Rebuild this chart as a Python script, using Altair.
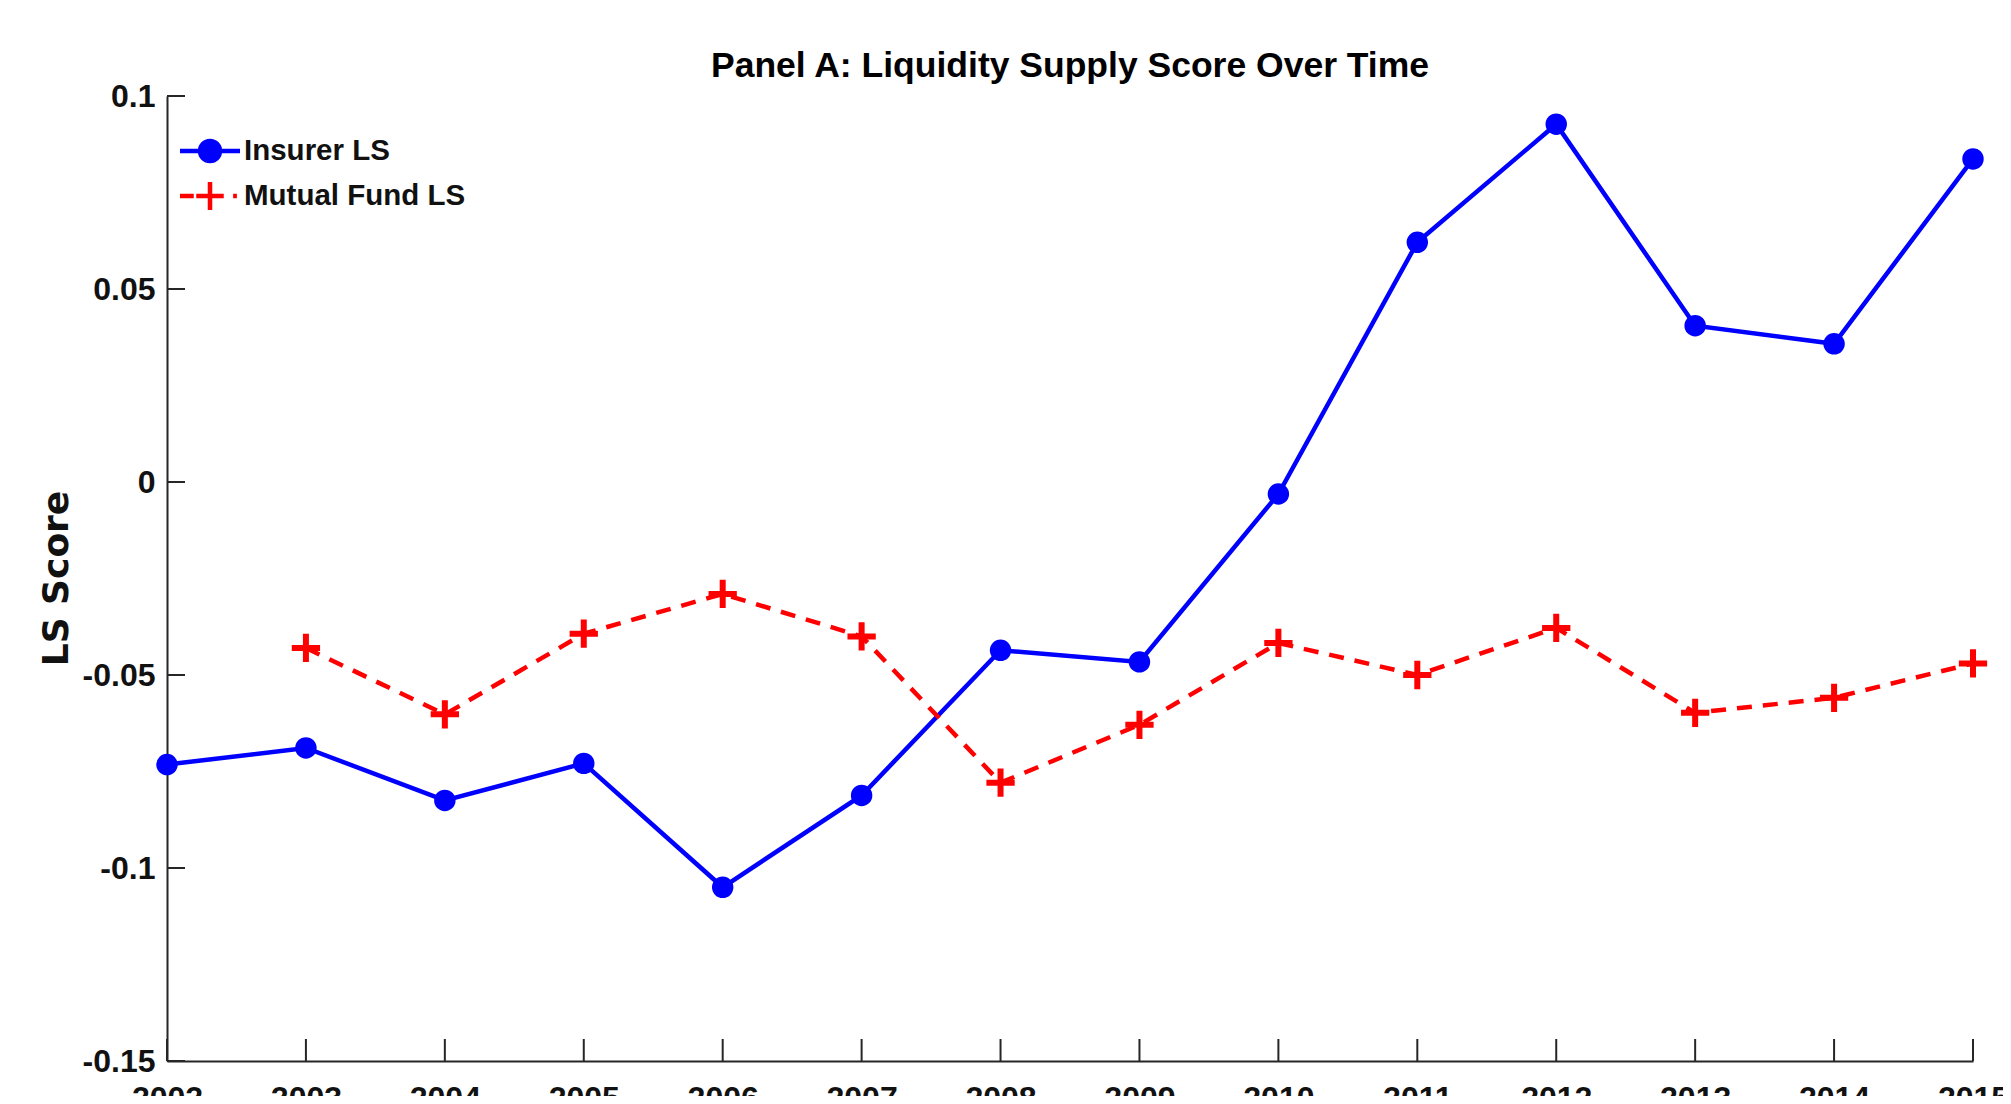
import altair as alt
import pandas as pd

# ---- data ----
years = list(range(2002, 2016))
insurer_ls = [-0.0732, -0.0689, -0.0825, -0.0729, -0.1050, -0.0812, -0.0436,
              -0.0466, -0.0031, 0.0621, 0.0927, 0.0405, 0.0358, 0.0837]
mutual_fund_ls = [None, -0.0430, -0.0602, -0.0393, -0.0290, -0.0400, -0.0779,
                  -0.0629, -0.0417, -0.0500, -0.0378, -0.0598, -0.0559, -0.0470]
series_names = ["Insurer LS", "Mutual Fund LS"]
x_ticks = list(range(2002, 2016))
y_ticks = [-0.15, -0.1, -0.05, 0, 0.05, 0.1]
title_text = "Panel A: Liquidity Supply Score Over Time"
y_title = "LS Score"

rows = []
for yr, v in zip(years, insurer_ls):
    rows.append({"year": yr, "value": v, "series": series_names[0]})
for yr, v in zip(years, mutual_fund_ls):
    if v is not None:
        rows.append({"year": yr, "value": v, "series": series_names[1]})
df = pd.DataFrame(rows)

W, H = 1806, 965
FONT = "Liberation Sans, Arial, Helvetica, sans-serif"
AX = "#262626"
TXT = "#111111"
BLUE = "#0000ff"
RED = "#ff0000"

x_enc = alt.X(
    "year:Q",
    scale=alt.Scale(domain=[2002, 2015], nice=False, zero=False),
    axis=alt.Axis(values=x_ticks, format="d", title=None, ticks=False, tickSize=0,
                  grid=False, labelFlush=False, labelOverlap=False, labelPadding=22,
                  labelFont=FONT, labelFontSize=32, labelFontWeight="bold",
                  labelColor=TXT, domainColor=AX, domainWidth=2),
)
y_enc = alt.Y(
    "value:Q",
    scale=alt.Scale(domain=[-0.15, 0.1], nice=False, zero=False),
    axis=alt.Axis(values=y_ticks, labelExpr="'' + datum.value", title=y_title,
                  titleFont="DejaVu Sans", titleFontSize=36, titleFontWeight="bold",
                  titleColor=TXT, titleAngle=270, titleX=-111, titleY=482,
                  titleAlign="center", titleBaseline="middle",
                  ticks=False, tickSize=0, grid=False, labelPadding=12,
                  labelFont=FONT, labelFontSize=32, labelFontWeight="bold",
                  labelColor=TXT, domainColor=AX, domainWidth=2),
)

INS_PATH = "M-2.4,0H2.4M0.8,0A0.8,0.8,0,1,1,-0.8,0A0.8,0.8,0,1,1,0.8,0Z"
MF_PATH = "M-2.4,0H-1.3M-1.1,0H1.1M0,-1.12V1.12M1.85,0H2.15"

legend = alt.Legend(
    title=None, orient="none", legendX=28, legendY=40, padding=0,
    labelFont=FONT, labelFontSize=29.5, labelFontWeight="bold", labelColor=TXT,
    labelOffset=19, labelLimit=600, rowPadding=3, symbolSize=625, symbolStrokeWidth=4.5,
    symbolOpacity=1,
)

line_ins = alt.Chart(df).transform_filter(
    alt.datum.series == series_names[0]
).mark_line(strokeWidth=4.5, color=BLUE).encode(x=x_enc, y=y_enc)

line_mf = alt.Chart(df).transform_filter(
    alt.datum.series == series_names[1]
).mark_line(strokeWidth=4.5, color=RED, strokeDash=[15, 11]).encode(x=x_enc, y=y_enc)

# layer that only carries the legend (line + marker symbols); its marks have zero size
legend_layer = alt.Chart(df).mark_point(
    size=0, strokeWidth=4.5, filled=False
).encode(
    x=x_enc, y=y_enc,
    stroke=alt.Stroke("series:N", scale=alt.Scale(domain=series_names, range=[BLUE, RED]),
                      legend=legend),
    fill=alt.Fill("series:N", scale=alt.Scale(domain=series_names, range=[BLUE, "transparent"]),
                  legend=legend),
    shape=alt.Shape("series:N", scale=alt.Scale(domain=series_names, range=[INS_PATH, MF_PATH]),
                    legend=legend),
)

circles = alt.Chart(df).transform_filter(
    alt.datum.series == series_names[0]
).mark_point(shape="circle", filled=True, size=460, color=BLUE, opacity=1).encode(x=x_enc, y=y_enc)

pluses = alt.Chart(df).transform_filter(
    alt.datum.series == series_names[1]
).mark_point(shape="M-1,0H1M0,-1V1", filled=False, size=800, strokeWidth=6,
             color=RED, opacity=1).encode(x=x_enc, y=y_enc)

xt = alt.Chart(pd.DataFrame({"year": x_ticks})).mark_rule(color=AX, strokeWidth=2).encode(
    x=x_enc, y=alt.value(H), y2=alt.value(H - 22))
yt = alt.Chart(pd.DataFrame({"value": y_ticks})).mark_rule(color=AX, strokeWidth=2).encode(
    y=y_enc, x=alt.value(0), x2=alt.value(18))

chart = alt.layer(xt, yt, line_ins, line_mf, circles, pluses, legend_layer).properties(
    width=W, height=H,
    title=alt.Title(title_text, font=FONT, fontSize=35.5, fontWeight="bold", color="#000000",
                    anchor="middle", frame="group", baseline="alphabetic", offset=-32),
    autosize=alt.AutoSizeParams(type="none"),
    padding={"left": 159, "top": 88, "right": 30, "bottom": 35},
    background="white",
).configure_view(strokeWidth=0, stroke=None)

chart.save("out.html", embed_options={"renderer": "svg", "actions": False})
